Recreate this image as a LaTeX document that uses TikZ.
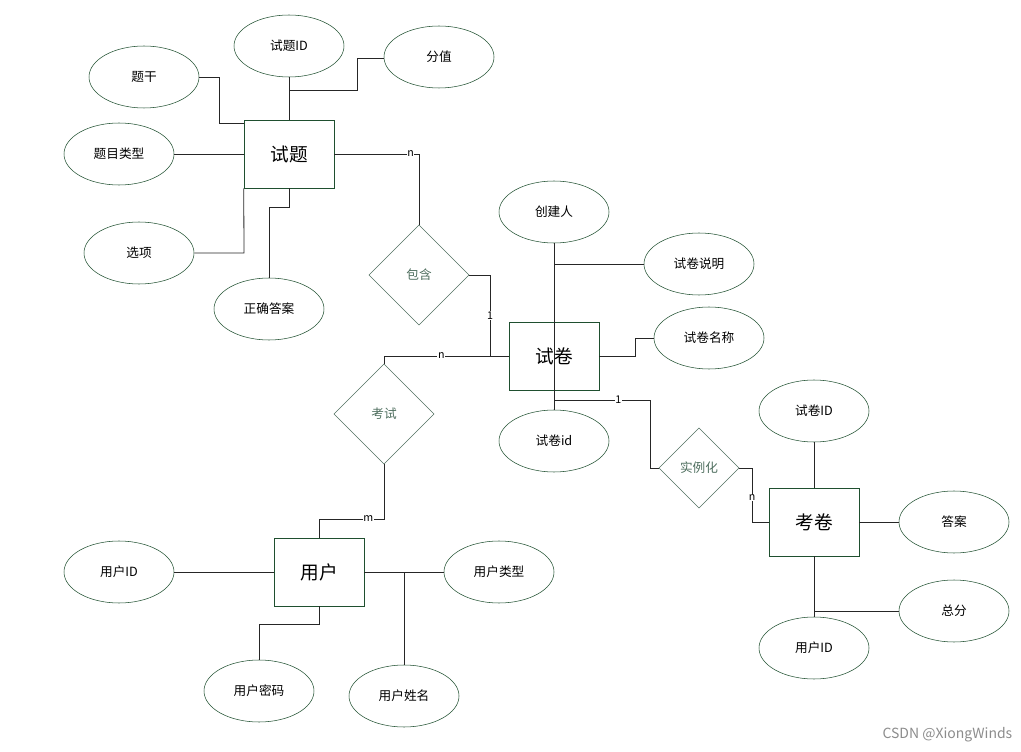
\documentclass[tikz,border=0pt]{standalone}
\usepackage{fontspec}
\setmainfont{Noto Sans CJK SC}
\usetikzlibrary{shapes.geometric}
\definecolor{eg}{HTML}{1F4F2F}
\definecolor{dg}{HTML}{4F6F5F}
\tikzset{
 x=0.75pt,y=-0.75pt,
 attr/.style={ellipse,draw=eg,thin,minimum width=82.5pt,minimum height=46.5pt,inner sep=0pt,font=\fontsize{9.5}{10}\selectfont},
 ent/.style={rectangle,draw=eg,thin,minimum width=67.5pt,minimum height=51pt,inner sep=0pt,font=\fontsize{14}{15}\selectfont},
 rel/.style={diamond,draw=dg,thin,aspect=1,minimum size=75pt,inner sep=0pt,text=dg,font=\fontsize{9.5}{10}\selectfont},
 ln/.style={draw=black!85,line width=0.6pt},
 card/.style={fill=white,inner sep=0.5pt,font=\fontsize{8}{8}\selectfont},
}
\begin{document}
\begin{tikzpicture}
\useasboundingbox (0,0) rectangle (1021,752);
% entities
\node[ent] (st) at (289,154) {试题};
\node[ent] (sj) at (554,356) {试卷};
\node[ent] (kj) at (814,522) {考卷};
\node[ent] (yh) at (319,572) {用户};
% relations
\node[rel] (bh) at (419,275) {包含};
\node[rel] (ks) at (384,414) {考试};
\node[rel,minimum size=60pt] (slh) at (699,468) {实例化};
% attributes
\node[attr] (stid) at (289,46) {试题ID};
\node[attr] (fz) at (439,57) {分值};
\node[attr] (tg) at (144,77) {题干};
\node[attr] (tmlx) at (119,154) {题目类型};
\node[attr] (xx) at (139,253) {选项};
\node[attr] (zqda) at (269,309) {正确答案};
\node[attr] (cjr) at (554,212) {创建人};
\node[attr] (sjsm) at (699,264) {试卷说明};
\node[attr] (sjmc) at (709,338) {试卷名称};
\node[attr] (sjid) at (554,441) {试卷id};
\node[attr] (sjID) at (814,411) {试卷ID};
\node[attr] (da) at (954,522) {答案};
\node[attr] (zf) at (954,611) {总分};
\node[attr] (kyhid) at (814,648) {用户ID};
\node[attr] (yhid) at (119,572) {用户ID};
\node[attr] (yhlx) at (499,572) {用户类型};
\node[attr] (yhmm) at (259,691) {用户密码};
\node[attr] (yhxm) at (404,696) {用户姓名};
% connectors
\draw[ln] (tg.east) -- (219,77) -- (219,123) -- (st.west |- 0,123);
\draw[ln] (stid.south) -- (st.north);
\coordinate (a1) at (289,90);
\draw[ln] (a1) -- (357,90) -- (357,58) -- (fz.west |- 0,58);
\draw[ln] (tmlx.east) -- (st.west);
\draw[ln] (xx.east) -- (244,253) -- (st.south west);
\draw[ln] (zqda.north) -- (269,207) -- (289,207) -- (st.south);
\draw[ln] (st.east) -- node[card,pos=0.9]{n} (419,154) -- (bh.north);
\draw[ln] (bh.east) -- (490,275) -- node[card,pos=0.5]{1} (490,356) -- (sj.west);
\draw[ln] (ks.north) -- (384,356) -- node[card,pos=0.46]{n} (sj.west);
\draw[ln] (cjr.south) -- (sjid.north);
\coordinate (a2) at (554,264);
\draw[ln] (a2) -- (sjsm.west);
\draw[ln] (sj.east) -- (635,356) -- (635,338) -- (sjmc.west);
\coordinate (a3) at (554,400);
\draw[ln] (a3) -- node[card,pos=0.67]{1} (650,400) -- (650,468) -- (slh.west);
\draw[ln] (slh.east) -- (752,468) -- node[card,pos=0.55]{n} (752,522) -- (kj.west);
\draw[ln] (ks.south) -- (384,519) -- node[card,pos=0.24]{m} (319,519) -- (yh.north);
\draw[ln] (yhid.east) -- (yh.west);
\draw[ln] (yh.east) -- (yhlx.west);
\draw[ln] (yhxm.north) -- (404,572);
\draw[ln] (yhmm.north) -- (259,624) -- (319,624) -- (yh.south);
\draw[ln] (sjID.south) -- (kj.north);
\draw[ln] (kj.east) -- (da.west);
\draw[ln] (kj.south) -- (kyhid.north);
\coordinate (a4) at (814,611);
\draw[ln] (a4) -- (zf.west);
\node[text=black!45,font=\fontsize{10.5}{11}\selectfont,anchor=east] (wm) at (1017,735) {CSDN @XiongWinds};
\end{tikzpicture}
\end{document}
